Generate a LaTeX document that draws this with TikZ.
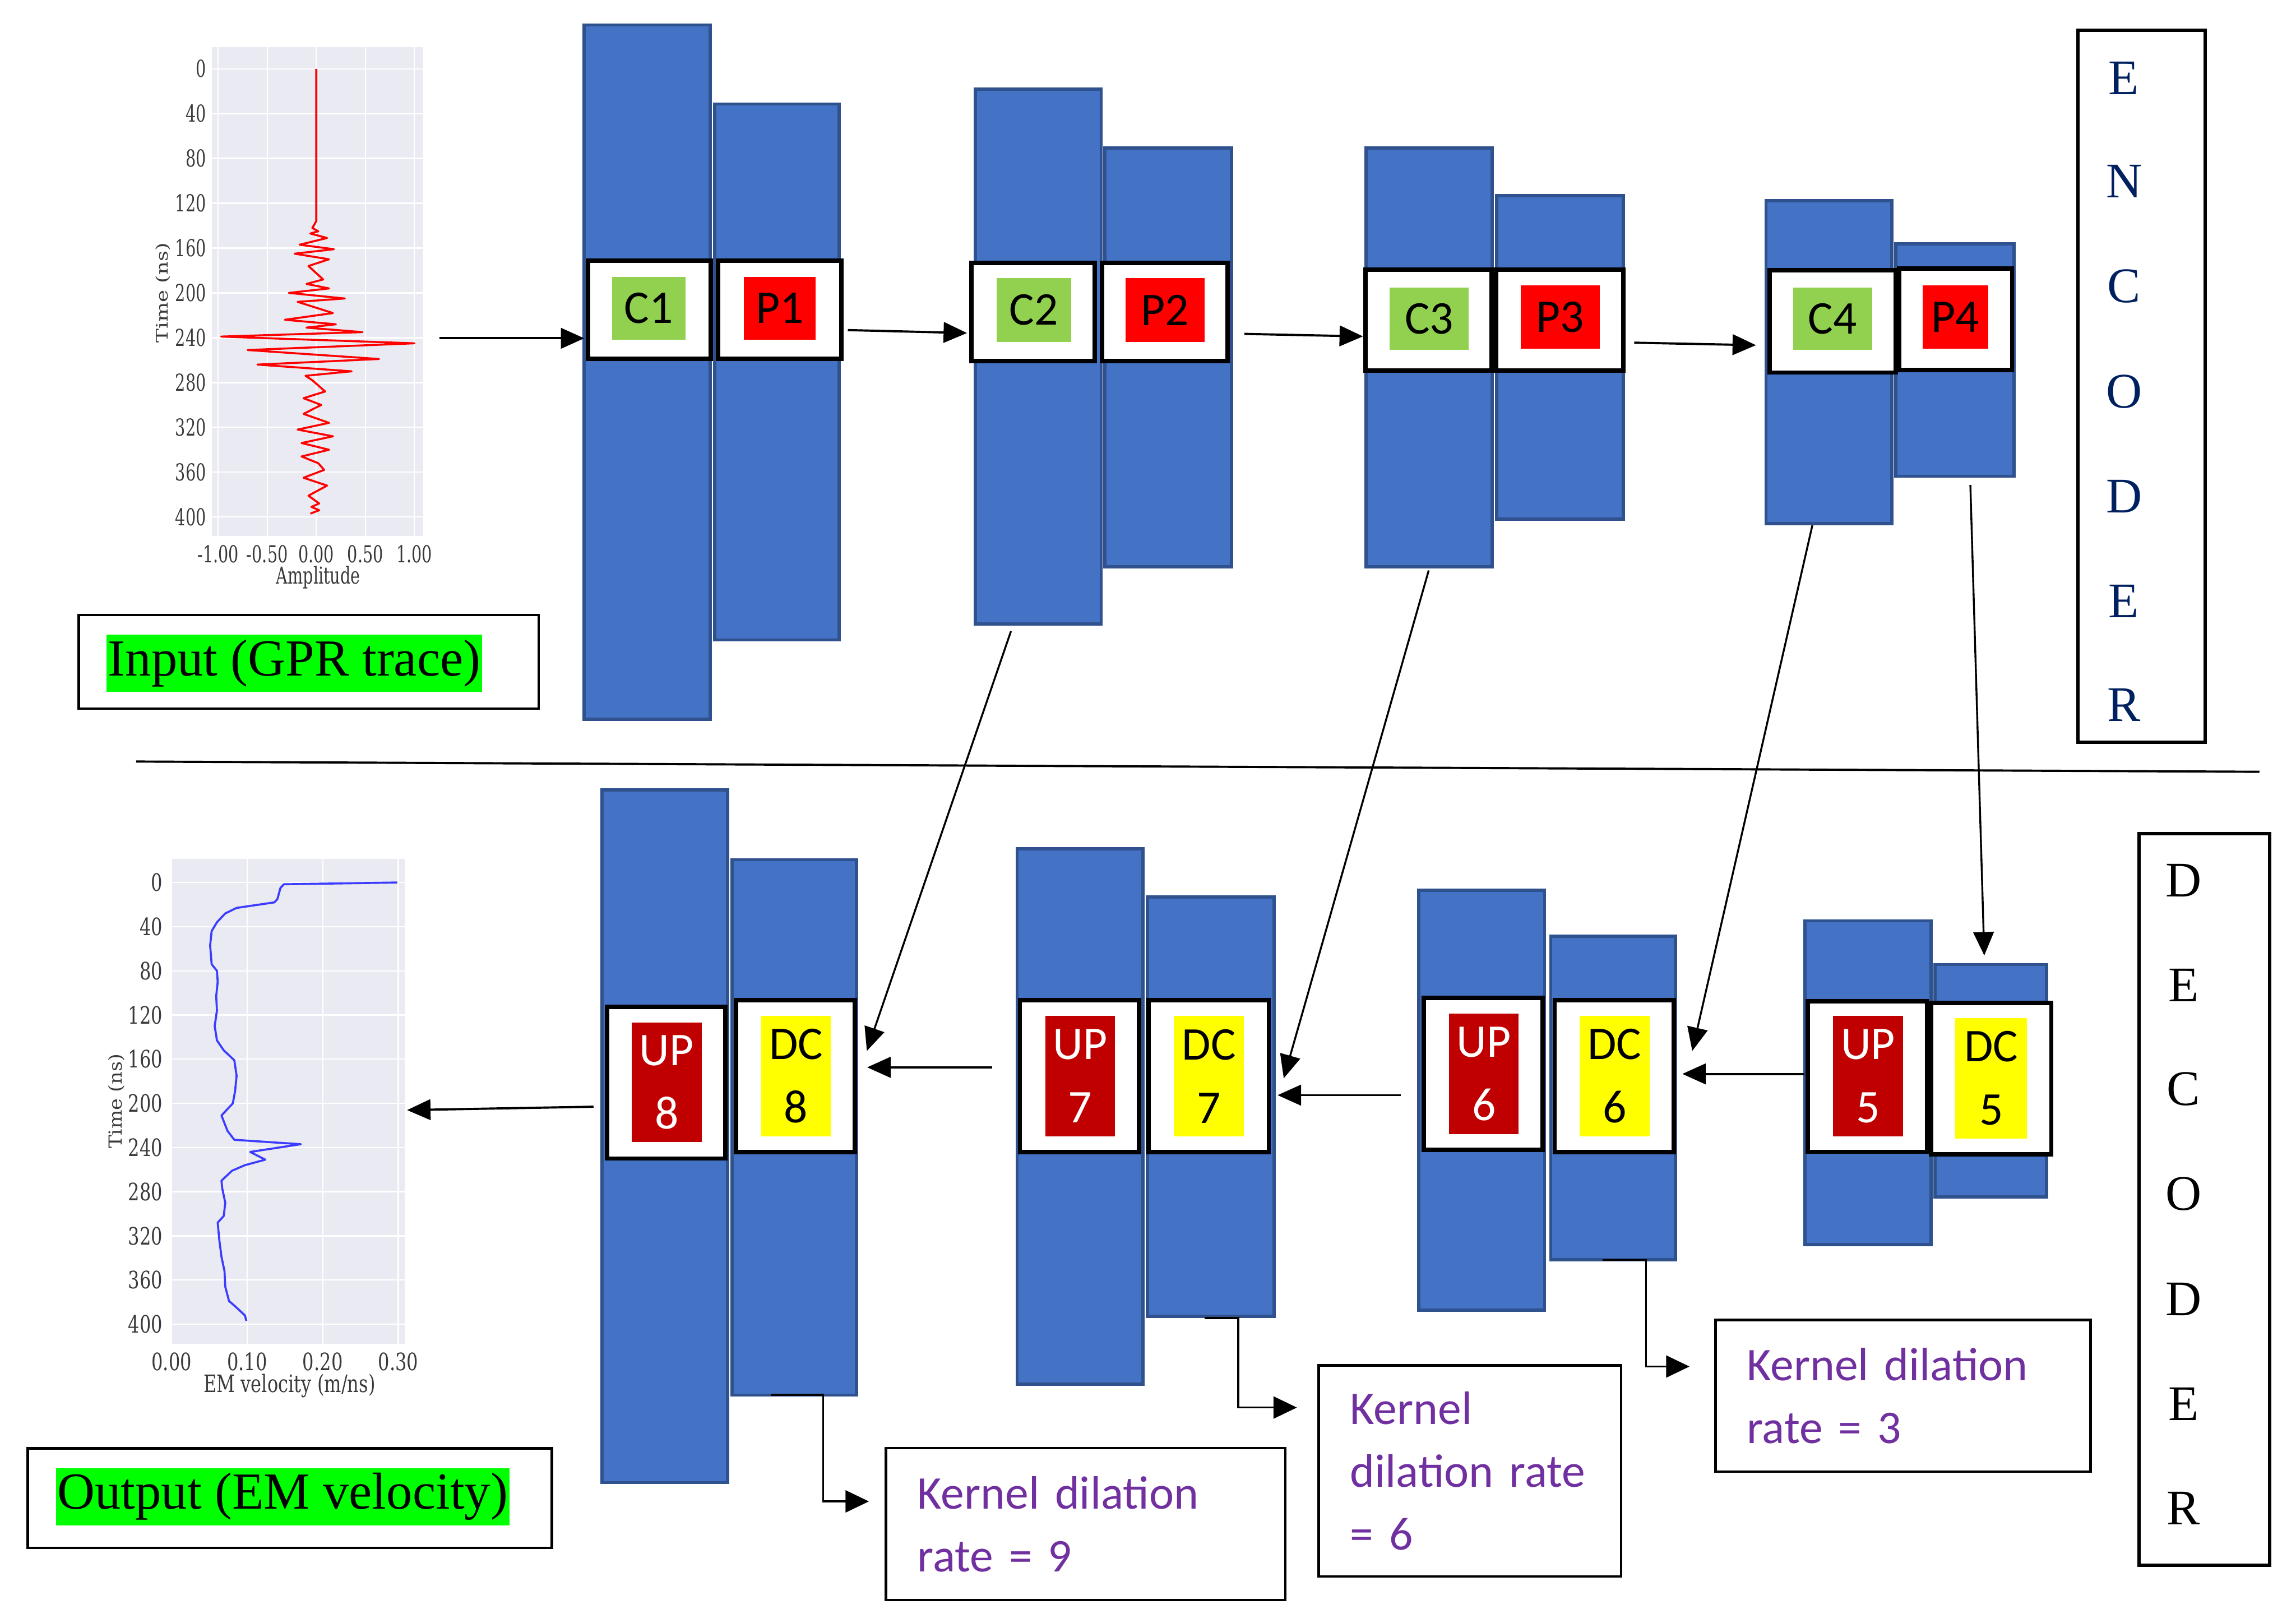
\documentclass[tikz,border=0pt]{standalone}
\usepackage{fontspec}
\usepackage{graphicx}
\usetikzlibrary{arrows.meta,calc}
\newfontfamily\carl{Carlito}
\newfontfamily\lserif{Liberation Serif}
\newfontfamily\dvserif{DejaVu Serif}
\definecolor{blkfill}{HTML}{4472C4}
\definecolor{blkdraw}{HTML}{2F528F}
\definecolor{cgreen}{HTML}{92D050}
\definecolor{pred}{HTML}{FF0000}
\definecolor{updark}{HTML}{C00000}
\definecolor{dcyel}{HTML}{FFFF00}
\definecolor{kpurple}{HTML}{7030A0}
\definecolor{encnavy}{HTML}{002060}
\definecolor{plotbg}{HTML}{EAEAF2}
\definecolor{hlgreen}{HTML}{00FF00}
\definecolor{ticktxt}{HTML}{3A3A3A}
\definecolor{vtrace}{HTML}{3C3CFF}
\begin{document}
\begin{tikzpicture}[x=1pt,y=-1pt,
  blk/.style={draw=blkdraw, fill=blkfill, line width=2.2, anchor=north west, inner sep=0, outer sep=0},
  cell/.style={draw=black, fill=white, line width=3, inner sep=0, outer sep=0},
  tag/.style={inner sep=0, outer sep=0, font=\carl\fontsize{32}{43.2}\selectfont, align=center},
  ctag/.style={tag, fill=cgreen, text=black},
  ptag/.style={tag, fill=pred, text=black},
  utag/.style={tag, fill=updark, text=white},
  dtag/.style={tag, fill=dcyel, text=black},
  kbox/.style={draw=black, fill=white, line width=1.8, text=kpurple, font=\carl\fontsize{32}{42.8}\selectfont, align=left, inner xsep=21.5, inner ysep=0},
  sidebox/.style={draw=black, line width=2.5, anchor=north west, inner sep=0},
  encl/.style={inner sep=0, text=encnavy, font=\lserif\fontsize{34}{40}\selectfont},
  decl/.style={inner sep=0, text=black, font=\lserif\fontsize{34}{40}\selectfont},
  lblbox/.style={draw=black, line width=1.8, anchor=north west, inner sep=0},
  hl/.style={fill=hlgreen, inner xsep=1, inner ysep=2, text height=26, text depth=9, font=\lserif\fontsize{35.5}{40}\selectfont},
  tick/.style={inner sep=0, text=ticktxt, font=\dvserif\fontsize{11}{13}\selectfont},
  tickb/.style={inner sep=0, text=ticktxt, font=\dvserif\fontsize{12.3}{14}\selectfont},
  arr/.style={-{Triangle[length=16pt,width=14pt]}, line width=1.5, black},
  skip/.style={-{Triangle[length=16pt,width=14pt]}, line width=1.3, black},
  dil/.style={-{Triangle[length=16pt,width=15pt]}, line width=1.4, black},
  grid/.style={white, line width=0.9}
]
\useasboundingbox (0,0) rectangle (1568,1108);

% ---------------- input plot ----------------
\begin{scope}[shift={(216,47)}, xscale=67, yscale=0.765]
  \fill[plotbg] (-1.066,-19.2) rectangle (1.09,417);
  \foreach \a in {-1,-0.5,0,0.5,1} \draw[grid] (\a,-19.2) -- (\a,417);
  \foreach \t in {0,40,...,400} \draw[grid] (-1.066,\t) -- (1.09,\t);
  \draw[red, line width=1.35, line join=round]
    (0,0) -- (0,136) -- (-0.04,142) -- (0.02,145) -- (-0.06,147) -- (0.11,151) -- (-0.17,157) -- (0.18,161)
    -- (-0.22,165) -- (0.13,170) -- (-0.08,176) -- (0.07,188) -- (-0.10,192) -- (0.13,196) -- (-0.28,200)
    -- (0.29,205) -- (-0.19,208) -- (0.17,218) -- (-0.32,224) -- (0.20,228) -- (-0.10,231) -- (0.47,235)
    -- (-0.97,239) -- (1.0,245) -- (-0.70,251) -- (0.64,259) -- (-0.60,264) -- (0.36,270) -- (-0.11,274)
    -- (-0.04,278) -- (0.09,288) -- (-0.13,294) -- (0.05,300) -- (-0.13,308) -- (0.13,316) -- (-0.19,322)
    -- (0.17,328) -- (-0.15,334) -- (0.13,340) -- (-0.15,346) -- (0.02,352) -- (0.08,358) -- (-0.13,365)
    -- (0.11,372) -- (-0.08,381) -- (0.03,388) -- (-0.05,391) -- (0.03,394) -- (-0.06,397);
  \foreach \t in {0,40,...,400} \node[tick, anchor=east] (iy\t) at (-1.12,\t) {\scalebox{1}[1.45]{\t}};
  \foreach \a/\l/\n in {-1/-1.00/1,-0.5/-0.50/2,0/0.00/3,0.5/0.50/4,1/1.00/5}
    \node[tick] (ix\n) at (\a,433) {\scalebox{1}[1.45]{\l}};
  \node[tick] (ixlab) at (0.02,454) {\scalebox{1}[1.45]{Amplitude}};
  \node[tick, rotate=90] (iylab) at (-1.56,200) {\scalebox{1.3}[1]{Time (ns)}};
\end{scope}

% ---------------- output plot ----------------
\begin{scope}[shift={(117.2,602.6)}, xscale=516, yscale=0.754]
  \fill[plotbg] (-0.001,-21.3) rectangle (0.3086,418);
  \foreach \v in {0,0.1,0.2,0.3} \draw[grid] (\v,-21.3) -- (\v,418);
  \foreach \t in {0,40,...,400} \draw[grid] (-0.001,\t) -- (0.3086,\t);
  \draw[vtrace, line width=1.4, line join=round]
    (0.2986,0) -- (0.1486,1.6) -- (0.144,5) -- (0.14,15) -- (0.136,18) -- (0.086,23) -- (0.071,28)
    -- (0.06,36) -- (0.053,44) -- (0.051,57) -- (0.053,74) -- (0.06,80) -- (0.061,90) -- (0.059,103)
    -- (0.06,116) -- (0.057,130) -- (0.06,143) -- (0.069,152) -- (0.083,161) -- (0.086,175) -- (0.084,189)
    -- (0.081,200) -- (0.066,211) -- (0.074,225) -- (0.083,233) -- (0.171,237) -- (0.104,244) -- (0.124,251)
    -- (0.097,256) -- (0.08,261) -- (0.066,270) -- (0.067,277) -- (0.071,290) -- (0.069,302) -- (0.061,308)
    -- (0.063,323) -- (0.066,339) -- (0.07,352) -- (0.071,366) -- (0.076,379) -- (0.086,385) -- (0.097,392)
    -- (0.099,397);
  \foreach \t in {0,40,...,400} \node[tickb, anchor=east] (oy\t) at (-0.0114,\t) {\scalebox{1}[1.33]{\t}};
  \foreach \v/\l/\n in {0/0.00/1,0.1/0.10/2,0.2/0.20/3,0.3/0.30/4}
    \node[tickb] (ox\n) at (\v,434) {\scalebox{1}[1.33]{\l}};
  \node[tickb] (oxlab) at (0.156,455.7) {\scalebox{1}[1.33]{EM velocity (m/ns)}};
  \node[tickb, rotate=90] (oylab) at (-0.073,198) {\scalebox{1.1}[1]{Time (ns)}};
\end{scope}

% ---------------- input / output labels ----------------
\node[lblbox, minimum width=314, minimum height=64] (inbox) at (53,419) {};
\node[hl] (intext) at (201,453) {Input (GPR trace)};
\node[lblbox, minimum width=358, minimum height=68] (outbox) at (18,988) {};
\node[hl] (outtext) at (193,1022) {Output (EM velocity)};

% ---------------- encoder blocks ----------------
\node[blk, minimum width=86, minimum height=474] (b1a) at (399,17) {};
\node[blk, minimum width=85, minimum height=366] (b1b) at (488,71) {};
\node[blk, minimum width=86, minimum height=365] (b2a) at (666,61) {};
\node[blk, minimum width=86.5, minimum height=286] (b2b) at (754.5,101) {};
\node[blk, minimum width=86, minimum height=286] (b3a) at (933,101) {};
\node[blk, minimum width=86.6, minimum height=221] (b3b) at (1022,133.5) {};
\node[blk, minimum width=86, minimum height=220.6] (b4a) at (1206,137) {};
\node[blk, minimum width=80.8, minimum height=158.8] (b4b) at (1294.6,166.4) {};

\node[cell, minimum width=84, minimum height=67] (c1) at (443.5,211.5) {};
\node[cell, minimum width=84, minimum height=67] (p1) at (532.5,211.5) {};
\node[cell, minimum width=84, minimum height=67] (c2) at (705.5,213) {};
\node[cell, minimum width=86, minimum height=67] (p2) at (795.5,213) {};
\node[cell, minimum width=86, minimum height=69] (c3) at (975.6,218.6) {};
\node[cell, minimum width=87, minimum height=69] (p3) at (1065.2,218.6) {};
\node[cell, minimum width=86, minimum height=70] (c4) at (1251.5,219.4) {};
\node[cell, minimum width=77, minimum height=69] (p4) at (1335.6,218) {};

\node[ctag, minimum width=50, minimum height=43] (c1t) at (443,210.5) {C1};
\node[ptag, minimum width=49, minimum height=43] (p1t) at (532.5,210.5) {P1};
\node[ctag, minimum width=51, minimum height=43.4] (c2t) at (706,211.7) {C2};
\node[ptag, minimum width=54, minimum height=43.4] (p2t) at (795.5,211.7) {P2};
\node[ctag, minimum width=54, minimum height=42.6] (c3t) at (976,217.7) {C3};
\node[ptag, minimum width=54, minimum height=43.3] (p3t) at (1065.5,216.4) {P3};
\node[ctag, minimum width=54, minimum height=42.6] (c4t) at (1251.5,217.7) {C4};
\node[ptag, minimum width=45, minimum height=43.3] (p4t) at (1335.4,216.4) {P4};

% ---------------- decoder blocks ----------------
\node[blk, minimum width=86, minimum height=473] (b8a) at (411,539.3) {};
\node[blk, minimum width=85, minimum height=365.6] (b8b) at (500,587) {};
\node[blk, minimum width=86, minimum height=365.6] (b7a) at (694.6,579.6) {};
\node[blk, minimum width=86.4, minimum height=286.5] (b7b) at (783.7,612.4) {};
\node[blk, minimum width=86, minimum height=286.6] (b6a) at (968.8,607.9) {};
\node[blk, minimum width=85.3, minimum height=221] (b6b) at (1059,639.2) {};
\node[blk, minimum width=86, minimum height=220.9] (b5a) at (1232.7,628.8) {};
\node[blk, minimum width=76.3, minimum height=158.7] (b5b) at (1321.4,658.6) {};

\node[cell, minimum width=81, minimum height=103.6] (up8) at (455,739.3) {};
\node[cell, minimum width=81.4, minimum height=103.5] (dc8) at (543.2,734.8) {};
\node[cell, minimum width=81.4, minimum height=103.5] (up7) at (737.2,734.8) {};
\node[cell, minimum width=82, minimum height=103.5] (dc7) at (825.5,734.8) {};
\node[cell, minimum width=81.2, minimum height=103.6] (up6) at (1012.9,733.3) {};
\node[cell, minimum width=81.5, minimum height=103.5] (dc6) at (1102.45,734.8) {};
\node[cell, minimum width=81.2, minimum height=102.7] (up5) at (1275.3,735.15) {};
\node[cell, minimum width=82, minimum height=103.3] (dc5) at (1359.9,736.45) {};

\node[utag, minimum width=47.7, minimum height=81.6] (up8t) at (455.3,739.1) {UP\\8};
\node[dtag, minimum width=47.7, minimum height=82] (dc8t) at (543.6,734.8) {DC\\8};
\node[utag, minimum width=47.7, minimum height=82] (up7t) at (737.6,734.8) {UP\\7};
\node[dtag, minimum width=47.7, minimum height=82] (dc7t) at (825.6,734.8) {DC\\7};
\node[utag, minimum width=47.6, minimum height=82] (up6t) at (1013.4,733.3) {UP\\6};
\node[dtag, minimum width=47.7, minimum height=82] (dc6t) at (1102.7,734.8) {DC\\6};
\node[utag, minimum width=47.7, minimum height=82] (up5t) at (1275.7,734.8) {UP\\5};
\node[dtag, minimum width=49, minimum height=82] (dc5t) at (1359.9,736.3) {DC\\5};

% ---------------- side labels ----------------
\node[sidebox, minimum width=87, minimum height=486] (enc) at (1417.8,19.5) {};
\node[encl] (e1) at (1450.5,53.3) {E};
\node[encl] (e2) at (1450.5,123.8) {N};
\node[encl] (e3) at (1450.5,195.4) {C};
\node[encl] (e4) at (1450.5,267.3) {O};
\node[encl] (e5) at (1450.5,338.9) {D};
\node[encl] (e6) at (1450.5,410.4) {E};
\node[encl] (e7) at (1450.5,481.3) {R};

\node[sidebox, minimum width=89.2, minimum height=499.7] (dec) at (1459.6,567.9) {};
\node[decl] (d1) at (1491.2,601.3) {D};
\node[decl] (d2) at (1491.2,672.9) {E};
\node[decl] (d3) at (1491.2,743.7) {C};
\node[decl] (d4) at (1491.2,815.3) {O};
\node[decl] (d5) at (1491.2,887.2) {D};
\node[decl] (d6) at (1491.2,958.8) {E};
\node[decl] (d7) at (1491.2,1030) {R};

% ---------------- kernel dilation boxes ----------------
\node[kbox, text width=229.7, minimum height=103.7] (k9) at (741.45,1040.65) {Kernel dilation\\rate = 9};
\node[kbox, text width=163.5, minimum height=144.3] (k6) at (1003.85,1004.35) {Kernel\\dilation rate\\= 6};
\node[kbox, text width=213.2, minimum height=103.7] (k3) at (1299.6,953.05) {Kernel dilation\\rate = 3};

% ---------------- separator ----------------
\coordinate (sepL) at (93,520);
\coordinate (sepR) at (1543,527);
\draw[line width=1.5] (sepL) -- (sepR);

% ---------------- connectors ----------------
\coordinate (in0) at (300,231);
\coordinate (out0) at (278,758);
\draw[arr] (in0) -- (in0 -| b1a.west);
\draw[arr] ([shift={(4.5,13.9)}]p1.east) -- ([shift={(-3.1,14.4)}]c2.west);
\draw[arr] ([shift={(11.4,15)}]p2.east) -- ([shift={(-1.8,11.1)}]c3.west);
\draw[arr] ([shift={(7.3,15.4)}]p3.east) -- ([shift={(-9.3,16.3)}]c4.west);

\draw[arr] ([shift={(-0.5,-5.95)}]b5a.west) -- ([shift={(5.7,-1.5)}]dc6.east);
\draw[arr] ([shift={(-12.2,-3.4)}]b6a.west) -- ([shift={(6,13)}]dc7.east);
\draw[arr] ([shift={(-17,-33.6)}]b7a.west) -- ([shift={(8.3,-6)}]dc8.east);
\draw[arr] ([shift={(-5.7,-20.1)}]b8a.west) -- (out0);

\draw[skip] ([shift={(-18.6,5)}]b2a.south) -- ([shift={(8.1,-17.2)}]dc8.east);
\draw[skip] ([shift={(-0.3,2.5)}]b3a.south) -- ([shift={(10.2,1.5)}]dc7.east);
\draw[skip] ([shift={(-11.3,1.1)}]b4a.south) -- ([shift={(12.5,-17.2)}]dc6.east);
\draw[skip] ([shift={(10.6,6)}]b4b.south) -- ([shift={(-4.45,-6.2)}]b5b.north);

\draw[dil] ([shift={(-16,-0.1)}]b8b.south) -- ++(35.7,0) |- ([shift={(-10.8,-15.45)}]k9.west);
\draw[dil] ([shift={(-4.3,1)}]b7b.south) -- ++(23.1,0) |- ([shift={(-14,-43.25)}]k6.west);
\draw[dil] ([shift={(-7.35,0.2)}]b6b.south) -- ++(29.8,0) |- ([shift={(-16.8,-19.95)}]k3.west);
\end{tikzpicture}
\end{document}
